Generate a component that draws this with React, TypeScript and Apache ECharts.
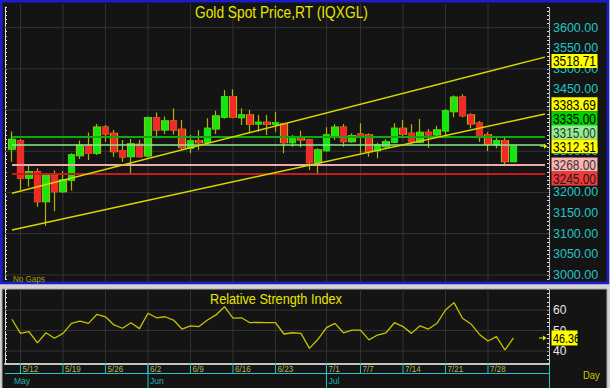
import React, { useEffect, useRef } from "react";
import * as echarts from "echarts";

// ---------- data ----------
const dates = [
  "5/9",
  "5/12", "5/13", "5/14", "5/15", "5/16",
  "5/19", "5/20", "5/21", "5/22", "5/23",
  "5/26", "5/27", "5/28", "5/29", "5/30",
  "6/2", "6/3", "6/4", "6/5", "6/6",
  "6/9", "6/10", "6/11", "6/12", "6/13",
  "6/16", "6/17", "6/18", "6/19", "6/20",
  "6/23", "6/24", "6/25", "6/26", "6/27",
  "6/30", "7/1", "7/2", "7/3", "7/4",
  "7/7", "7/8", "7/9", "7/10", "7/11",
  "7/14", "7/15", "7/16", "7/17", "7/18",
  "7/21", "7/22", "7/23", "7/24", "7/25",
  "7/28", "7/29", "7/30", "7/31",
];
const open = [
  3304.9, 3325.7, 3234.5, 3250.5, 3177.7, 3240.8, 3201.9, 3229.1, 3289.3, 3314.1,
  3295.1, 3358.3, 3343.7, 3301.5, 3286.9, 3317.0, 3288.6, 3381.6, 3351.7, 3373.5,
  3353.4, 3307.3, 3325.7, 3321.8, 3354.1, 3382.5, 3432.5, 3381.6, 3388.1, 3366.3,
  3370.4, 3365.5, 3366.3, 3320.9, 3333.0, 3327.4, 3272.3, 3301.5, 3334.0, 3358.3,
  3323.3, 3341.3, 3339.6, 3301.5, 3311.2, 3321.8, 3355.8, 3343.7, 3321.8, 3346.1,
  3339.6, 3349.3, 3396.1, 3431.1, 3388.1, 3368.0, 3339.6, 3315.3, 3325.7, 3274.8,
];
const close = [
  3329.1, 3234.5, 3250.5, 3177.7, 3240.8, 3201.9, 3230.3, 3291.0, 3314.6, 3294.7,
  3358.3, 3342.0, 3299.0, 3286.2, 3317.7, 3286.9, 3381.6, 3351.7, 3373.5, 3351.7,
  3308.7, 3325.0, 3320.9, 3355.8, 3385.7, 3432.5, 3382.5, 3388.1, 3365.5, 3370.4,
  3365.5, 3369.4, 3320.9, 3334.0, 3327.4, 3272.3, 3303.2, 3339.6, 3358.3, 3323.3,
  3337.9, 3337.1, 3299.0, 3315.3, 3323.3, 3355.8, 3341.3, 3323.3, 3346.1, 3339.6,
  3351.7, 3398.5, 3431.1, 3386.4, 3366.3, 3335.4, 3317.0, 3325.7, 3274.8, 3312.31,
];
const low = [
  3274.8, 3206.1, 3214.1, 3165.5, 3119.4, 3154.4, 3198.8, 3204.9, 3281.3, 3278.9,
  3291.0, 3323.3, 3286.9, 3274.8, 3246.6, 3285.0, 3285.0, 3331.6, 3342.0, 3340.8,
  3305.6, 3295.1, 3303.2, 3317.0, 3342.0, 3379.6, 3380.1, 3363.8, 3343.7, 3347.6,
  3339.6, 3347.6, 3295.1, 3311.2, 3309.7, 3254.6, 3246.6, 3299.0, 3327.4, 3311.2,
  3320.9, 3295.1, 3286.9, 3283.0, 3307.3, 3319.4, 3331.6, 3319.4, 3319.4, 3308.7,
  3333.0, 3339.6, 3382.5, 3382.5, 3355.8, 3323.3, 3300.7, 3307.3, 3268.4, 3273.5,
];
const high = [
  3348.1, 3329.9, 3266.7, 3258.7, 3243.7, 3253.4, 3252.2, 3295.1, 3326.2, 3345.6,
  3366.3, 3363.8, 3351.7, 3327.4, 3329.9, 3327.4, 3384.5, 3394.2, 3384.5, 3403.9,
  3376.0, 3339.6, 3351.7, 3380.1, 3398.5, 3448.8, 3450.5, 3403.9, 3400.2, 3388.1,
  3388.1, 3396.1, 3369.4, 3339.6, 3350.0, 3329.9, 3307.3, 3358.3, 3366.3, 3366.3,
  3343.7, 3368.0, 3343.7, 3320.9, 3329.1, 3368.0, 3376.0, 3365.5, 3378.4, 3354.1,
  3362.1, 3402.7, 3435.0, 3438.4, 3392.2, 3373.5, 3346.1, 3335.4, 3333.0, 3313.5,
];
const rsi = [
  55.5, 48.6, 49.4, 44.0, 48.9, 46.2, 48.6, 53.5, 54.6, 53.5,
  57.9, 56.7, 52.7, 51.1, 53.8, 50.9, 58.4, 56.2, 56.7, 55.1,
  50.7, 52.3, 51.9, 55.1, 57.6, 61.6, 56.0, 56.2, 53.8, 54.0,
  53.8, 53.8, 48.3, 48.9, 48.6, 41.3, 45.7, 51.4, 53.5, 48.9,
  50.2, 50.2, 45.4, 47.8, 48.9, 53.8, 51.9, 48.6, 52.3, 50.7,
  53.5, 60.0, 63.6, 56.0, 53.2, 48.1, 44.9, 47.0, 40.5, 46.36,
];
const weekLabels = ["5/12", "5/19", "5/26", "6/2", "6/9", "6/16", "6/23", "7/1", "7/7", "7/14", "7/21", "7/28"];
const monthLabels = ["May", "Jun", "Jul"];
const monthStarts = ["5/9", "6/2", "7/1"];
const priceLabels = [3000, 3050, 3100, 3150, 3200, 3250, 3300, 3350, 3400, 3450, 3500, 3550, 3600];
const priceGridLines = [3000, 3100, 3200, 3300, 3400, 3500, 3600];
const rsiLabels = [40, 50, 60];
const levelValues = [3335, 3315, 3268, 3245];
const trendStartValues = [3198.1, 3109.0];
const trendEndValues = [3528.4, 3390.5];
const trendLabelValues = [3518.71, 3383.69];

// ---------- styling / layout ----------
const FONT = "'Liberation Sans', Arial, sans-serif";
const X_MIN = -0.82;
const X_MAX = 63.18;
const LINE_END = 62.7;
const PRICE_MIN = 2990;
const PRICE_MAX = 3650;
const RSI_MIN = 34;
const RSI_MAX = 70;
const COL = {
  page: "#d4d4d4",
  panel: "#141414",
  frame: "#1c1cc8",
  grid: "#333333",
  up: "#14e614",
  down: "#f02a2a",
  wick: "#b4b400",
  trend: "#d8d800",
  cyan: "#22c4c4",
  axis: "#dcdcdc",
  title: "#e6e600",
  rsi: "#c4c400",
  dateText: "#b4b45a",
  monthText: "#1eb2b2",
};
const levelLineColors = ["#12a812", "#8ee88e", "#eeaaaa", "#c41c1c"];
const levelLineWidths = [2, 1.5, 2, 2];
const levelLabelBg = ["#00d200", "#90ee90", "#ffb4b4", "#f03a3a"];
const levelLabelFg = ["#000000", "#333333", "#333333", "#1a1a1a"];
const BOX_H = 14;
const AXIS_LABEL_H = 12;

function gridRenderer(ext: number) {
  return (params: any, api: any) => {
    const cs = params.coordSys;
    const kind = api.value(2);
    const pt = api.coord([api.value(0), api.value(1)]);
    if (kind === 0) {
      return {
        type: "line",
        shape: { x1: pt[0], y1: cs.y - ext, x2: pt[0], y2: cs.y + cs.height + ext },
        style: { stroke: COL.grid, lineWidth: 1 },
      };
    }
    return {
      type: "line",
      shape: { x1: cs.x, y1: pt[1], x2: cs.x + cs.width, y2: pt[1] },
      style: { stroke: COL.grid, lineWidth: 1 },
    };
  };
}

function textStyle(text: string, fill: string, size: number, align = "left") {
  return {
    text,
    fill,
    fontSize: size,
    fontFamily: FONT,
    align,
    textAlign: align,
    verticalAlign: "middle",
    textVerticalAlign: "middle",
  };
}

export default function App() {
  const ref = useRef<HTMLDivElement>(null);

  useEffect(() => {
    const chart = echarts.init(ref.current!, null, { renderer: "svg" });
    const weekIdx = weekLabels.map((d) => dates.indexOf(d));
    const monthIdx = monthStarts.map((d) => dates.indexOf(d));
    const lastIdx = dates.length - 1;
    const lastPrice = close[lastIdx];
    const lastRsi = rsi[lastIdx];
    let hiddenPriceLabels: number[] = [];

    const priceFormatter = (v: number) =>
      priceLabels.includes(v) && !hiddenPriceLabels.includes(v) ? v.toFixed(2) : "";

    const option: any = {
      animation: false,
      backgroundColor: COL.page,
      grid: [
        { left: 5, width: 544, top: 7, height: 272 },
        { left: 5, width: 544, top: 289.5, height: 73.8 },
        { left: 5, width: 544, top: 363.3, height: 24.7 },
      ],
      xAxis: [
        { gridIndex: 0, type: "value", min: X_MIN, max: X_MAX, show: false },
        {
          gridIndex: 1, type: "value", min: X_MIN, max: X_MAX,
          axisLine: { show: true, onZero: false, lineStyle: { color: "#c4c4c4", width: 2 } },
          axisTick: { show: false }, axisLabel: { show: false }, splitLine: { show: false },
        },
        { gridIndex: 2, type: "value", min: X_MIN, max: X_MAX, show: false },
      ],
      yAxis: [
        {
          gridIndex: 0, type: "value", position: "right", min: PRICE_MIN, max: PRICE_MAX, interval: 10,
          axisLine: { show: true, onZero: false, lineStyle: { color: COL.axis, type: "dotted" } },
          axisTick: { show: true, inside: true, length: 2, lineStyle: { color: COL.axis } },
          axisLabel: {
            show: true, color: COL.cyan, fontSize: 12.5, fontFamily: FONT, margin: 4,
            formatter: priceFormatter,
          },
          splitLine: { show: false },
        },
        {
          gridIndex: 0, type: "value", position: "left", min: PRICE_MIN, max: PRICE_MAX, interval: 10,
          axisLine: { show: true, onZero: false, lineStyle: { color: COL.axis } },
          axisTick: { show: true, inside: true, length: 2, lineStyle: { color: COL.axis } },
          axisLabel: { show: false }, splitLine: { show: false },
        },
        {
          gridIndex: 1, type: "value", position: "right", min: RSI_MIN, max: RSI_MAX, interval: 2,
          axisLine: { show: true, onZero: false, lineStyle: { color: COL.axis, type: "dotted" } },
          axisTick: { show: true, inside: true, length: 2, lineStyle: { color: COL.axis } },
          axisLabel: {
            show: true, color: "#e8e8e8", fontSize: 12, fontFamily: FONT, margin: 4,
            formatter: (v: number) => (rsiLabels.includes(v) ? String(v) : ""),
          },
          splitLine: { show: false },
        },
        {
          gridIndex: 1, type: "value", position: "left", min: RSI_MIN, max: RSI_MAX, interval: 2,
          axisLine: { show: true, onZero: false, lineStyle: { color: COL.axis } },
          axisTick: { show: true, inside: true, length: 2, lineStyle: { color: COL.axis } },
          axisLabel: { show: false }, splitLine: { show: false },
        },
        {
          gridIndex: 2, type: "value", position: "right", min: 0, max: 1,
          axisLine: { show: true, onZero: false, lineStyle: { color: COL.cyan } },
          axisTick: { show: false }, axisLabel: { show: false }, splitLine: { show: false },
        },
      ],
      series: [
        {
          type: "custom", xAxisIndex: 0, yAxisIndex: 0, z: 1, silent: true,
          renderItem: gridRenderer(3),
          data: [
            ...weekIdx.map((i) => [i, 3300, 0]),
            ...priceGridLines.map((v) => [0, v, 1]),
          ],
        },
        {
          type: "candlestick", xAxisIndex: 0, yAxisIndex: 0, z: 2, barWidth: 7,
          encode: { x: 0, y: [1, 2, 3, 4] },
          itemStyle: { color: COL.wick, color0: COL.wick, borderColor: COL.wick, borderColor0: COL.wick, borderWidth: 1.2 },
          data: dates.map((_, i) => [i, open[i], close[i], low[i], high[i]]),
        },
        {
          type: "candlestick", xAxisIndex: 0, yAxisIndex: 0, z: 3, barWidth: 6,
          encode: { x: 0, y: [1, 2, 3, 4] },
          itemStyle: { color: COL.up, color0: COL.down, borderColor: COL.up, borderColor0: COL.down, borderWidth: 1 },
          data: dates.map((_, i) => [i, open[i], close[i], Math.min(open[i], close[i]), Math.max(open[i], close[i])]),
          markLine: {
            silent: true,
            symbol: ["none", "none"],
            label: { show: false },
            data: [
              ...levelValues.map((v, k) => [
                { xAxis: 0, yAxis: v, lineStyle: { color: levelLineColors[k], width: levelLineWidths[k], type: "solid" } },
                { xAxis: LINE_END, yAxis: v },
              ]),
              ...trendStartValues.map((v, k) => [
                { xAxis: 0, yAxis: v, lineStyle: { color: COL.trend, width: 1.4, type: "solid" } },
                { xAxis: LINE_END, yAxis: trendEndValues[k] },
              ]),
            ],
          },
        },
        {
          type: "custom", xAxisIndex: 1, yAxisIndex: 2, z: 1, silent: true,
          renderItem: gridRenderer(0),
          data: [
            ...weekIdx.map((i) => [i, 50, 0]),
            ...rsiLabels.map((v) => [0, v, 1]),
          ],
        },
        {
          type: "line", xAxisIndex: 1, yAxisIndex: 2, z: 3, symbol: "none", showSymbol: false,
          lineStyle: { color: COL.rsi, width: 1.3 },
          data: rsi.map((v, i) => [i, v]),
        },
        {
          type: "custom", xAxisIndex: 2, yAxisIndex: 4, z: 3, silent: true,
          data: weekIdx.map((i) => [i, 0.5]),
          renderItem: (params: any, api: any) => {
            const cs = params.coordSys;
            const x = api.coord([api.value(0), 0])[0];
            return {
              type: "group",
              children: [
                { type: "line", shape: { x1: x, y1: cs.y, x2: x, y2: cs.y + 10.2 }, style: { stroke: COL.cyan, lineWidth: 1 } },
                { type: "text", x: x + 2, y: cs.y + 5.6, scaleX: 0.9, style: textStyle(weekLabels[params.dataIndex], COL.dateText, 9) },
              ],
            };
          },
        },
        {
          type: "custom", xAxisIndex: 2, yAxisIndex: 4, z: 3, silent: true,
          data: monthIdx.map((i) => [i, 0.5]),
          renderItem: (params: any, api: any) => {
            const cs = params.coordSys;
            const i = api.value(0);
            const x = api.coord([i, 0])[0];
            const children: any[] = [
              { type: "text", x: x + 2, y: cs.y + cs.height - 7.5, scaleX: 0.9, style: textStyle(monthLabels[params.dataIndex], COL.monthText, 9.5) },
            ];
            if (i > 0) {
              children.push({ type: "line", shape: { x1: x, y1: cs.y, x2: x, y2: cs.y + cs.height }, style: { stroke: COL.cyan, lineWidth: 1 } });
            } else {
              children.push({ type: "line", shape: { x1: cs.x, y1: cs.y + 10.2, x2: cs.x + cs.width, y2: cs.y + 10.2 }, style: { stroke: COL.cyan, lineWidth: 1.2 } });
            }
            return { type: "group", children };
          },
        },
      ],
    };
    chart.setOption(option);

    const yPrice = (v: number) => (chart.convertToPixel({ xAxisIndex: 0, yAxisIndex: 0 } as any, [0, v]) as any)[1] as number;
    const yRsi = (v: number) => (chart.convertToPixel({ xAxisIndex: 1, yAxisIndex: 2 } as any, [0, v]) as any)[1] as number;

    type Lab = { value: number; bg: string; fg: string; anchor?: boolean; y: number };
    const labs: Lab[] = [
      ...trendLabelValues.map((v) => ({ value: v, bg: "#ffff00", fg: "#000000", y: 0 })),
      ...levelValues.map((v, k) => ({ value: v, bg: levelLabelBg[k], fg: levelLabelFg[k], y: 0 })),
      { value: lastPrice, bg: "#ffff00", fg: "#000000", anchor: true, y: 0 },
    ];
    labs.forEach((l) => (l.y = yPrice(l.value)));
    labs.sort((a, b) => a.y - b.y);
    const ai = labs.findIndex((l) => l.anchor);
    for (let k = ai - 1; k >= 0; k--) labs[k].y = Math.min(labs[k].y, labs[k + 1].y - BOX_H);
    for (let k = ai + 1; k < labs.length; k++) labs[k].y = Math.max(labs[k].y, labs[k - 1].y + BOX_H);

    // axis labels that sit completely under the stacked value boxes are not visible
    const covered = (a: number, b: number) => {
      const spans = labs.map((l) => [l.y - BOX_H / 2, l.y + BOX_H / 2]).sort((p, q) => p[0] - q[0]);
      let pos = a;
      for (const [s, e] of spans) {
        if (s <= pos + 0.01 && e > pos) pos = e;
      }
      return pos >= b;
    };
    hiddenPriceLabels = priceLabels.filter((v) => {
      const y = yPrice(v);
      return covered(y - AXIS_LABEL_H / 2, y + AXIS_LABEL_H / 2);
    });

    const els: any[] = [
      { type: "rect", z: -10, silent: true, shape: { x: 1.3, y: 1.3, width: 606.6, height: 281.6 }, style: { fill: COL.panel, stroke: COL.frame, lineWidth: 2.6 } },
      { type: "rect", z: -10, silent: true, shape: { x: 2, y: 289, width: 605, height: 100 }, style: { fill: COL.panel, stroke: "#a8a8a8", lineWidth: 1 } },
      { type: "text", z: 20, x: 195, y: 12, scaleX: 0.86, style: textStyle("Gold Spot Price,RT (IQXGL)", COL.title, 16) },
      { type: "text", z: 20, x: 210, y: 299, scaleX: 0.82, style: textStyle("Relative Strength Index", COL.title, 15.5) },
      { type: "text", z: 20, x: 13, y: 279, scaleX: 0.9, style: textStyle("No Gaps", "#a0a000", 9) },
      { type: "text", z: 20, x: 583, y: 375.5, scaleX: 0.9, style: textStyle("Day", "#c8c800", 10.5) },
    ];
    labs.forEach((l) => {
      els.push({ type: "rect", z: 50, silent: true, shape: { x: 551.5, y: l.y - BOX_H / 2, width: 46, height: BOX_H }, style: { fill: l.bg } });
      els.push({ type: "text", z: 51, x: 553, y: l.y + 0.5, scaleX: 0.85, style: textStyle(l.value.toFixed(2), l.fg, 14) });
    });
    const yp = yPrice(lastPrice);
    els.push({ type: "line", z: 50, shape: { x1: 540, y1: yp, x2: 545, y2: yp }, style: { stroke: "#e6e600", lineWidth: 1 } });
    els.push({ type: "polygon", z: 50, shape: { points: [[544, yp - 2.5], [547.5, yp], [544, yp + 2.5]] }, style: { fill: "#e6e600" } });

    const yr = yRsi(lastRsi);
    els.push({ type: "rect", z: 50, shape: { x: 551.5, y: yr - 7.5, width: 26, height: 15 }, style: { fill: "#ffff00" } });
    els.push({ type: "text", z: 51, x: 553, y: yr + 0.5, scaleX: 0.8, style: textStyle(lastRsi.toFixed(2), "#000000", 13.5) });
    els.push({ type: "line", z: 50, shape: { x1: 539, y1: yr, x2: 544, y2: yr }, style: { stroke: "#e6e600", lineWidth: 1 } });
    els.push({ type: "polygon", z: 50, shape: { points: [[543, yr - 2.5], [546.5, yr], [543, yr + 2.5]] }, style: { fill: "#e6e600" } });

    chart.setOption({
      yAxis: [{ axisLabel: { formatter: priceFormatter } }],
      graphic: [{ elements: els }],
    });

    return () => chart.dispose();
  }, []);

  return <div ref={ref} style={{ position: "fixed", left: 0, top: 0, width: 610, height: 388 }} />;
}
